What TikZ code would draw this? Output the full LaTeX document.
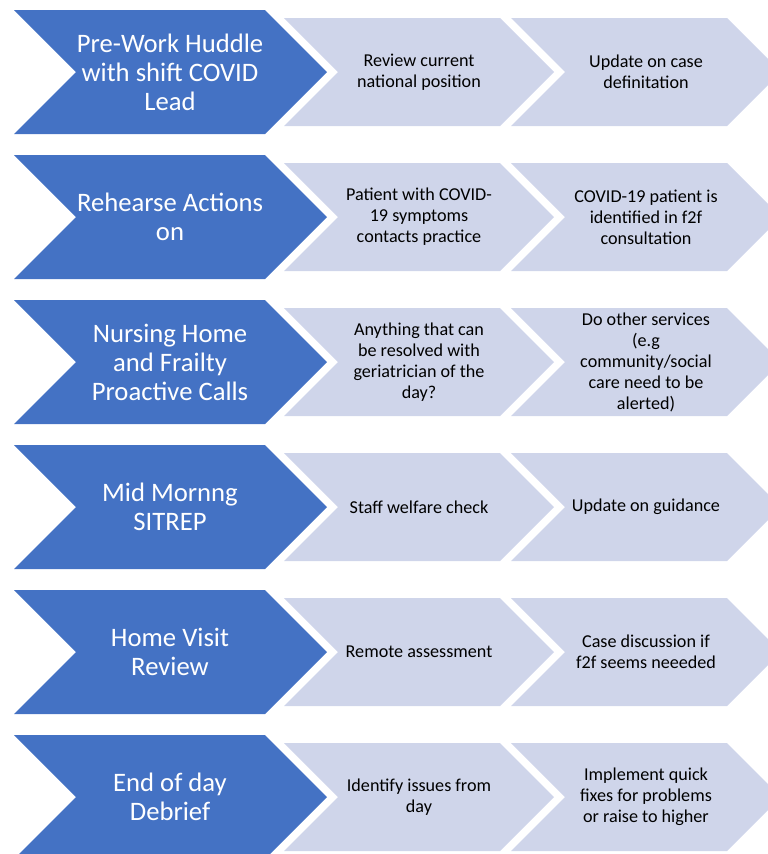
\documentclass[tikz,border=0pt]{standalone}
\usepackage{fontspec}
\setmainfont{Carlito}
\definecolor{leadblue}{HTML}{4472C4}
\definecolor{taskgrey}{HTML}{CFD5EA}

% chevron: left x, top y, width to shoulder, height, colour
\newcommand{\chevshape}[5]{%
  \fill[#5] (#1,#2) -- ++(#3,0) -- ++(#4/2,#4/2) -- ++(-#4/2,#4/2)
    -- ++(-#3,0) -- ++(#4/2,-#4/2) -- cycle;}

\begin{document}
\begin{tikzpicture}[x=0.75pt,y=-0.75pt,
  lead/.style={text=white, align=center, font=\fontsize{20}{21.75}\selectfont},
  task/.style={text=black, align=center, font=\fontsize{13.6}{15.75}\selectfont}]

  \useasboundingbox (0,0) rectangle (768,854);
  \clip (0,0) rectangle (768,854);

  \foreach \n/\y/\a/\b/\c in {
    1/10/{Pre-Work Huddle\\with shift COVID\\Lead}/{Review current\\national position}/{Update on case\\definitation},
    2/155/{Rehearse Actions\\on}/{Patient with COVID-\\19 symptoms\\contacts practice}/{COVID-19 patient is\\identified in f2f\\consultation},
    3/300/{Nursing Home\\and Frailty\\Proactive Calls}/{Anything that can\\be resolved with\\geriatrician of the\\day?}/{Do other services\\(e.g\\community/social\\care need to be\\alerted)},
    4/445/{Mid Mornng\\SITREP}/{Staff welfare check}/{Update on guidance},
    5/590/{Home Visit\\Review}/{Remote assessment}/{Case discussion if\\f2f seems neeeded},
    6/735/{End of day\\Debrief}/{Identify issues from\\day}/{Implement quick\\fixes for problems\\or raise to higher}}{
    \chevshape{14}{\y}{251}{124}{leadblue}
    \chevshape{284}{\y+8}{216}{108}{taskgrey}
    \chevshape{511}{\y+8}{216}{108}{taskgrey}
    \node [lead] (lead\n)   at (170,\y+62) {\a};
    \node [task] (first\n)  at (419,\y+62) {\b};
    \node [task] (second\n) at (646,\y+62) {\c};
  }
\end{tikzpicture}
\end{document}
